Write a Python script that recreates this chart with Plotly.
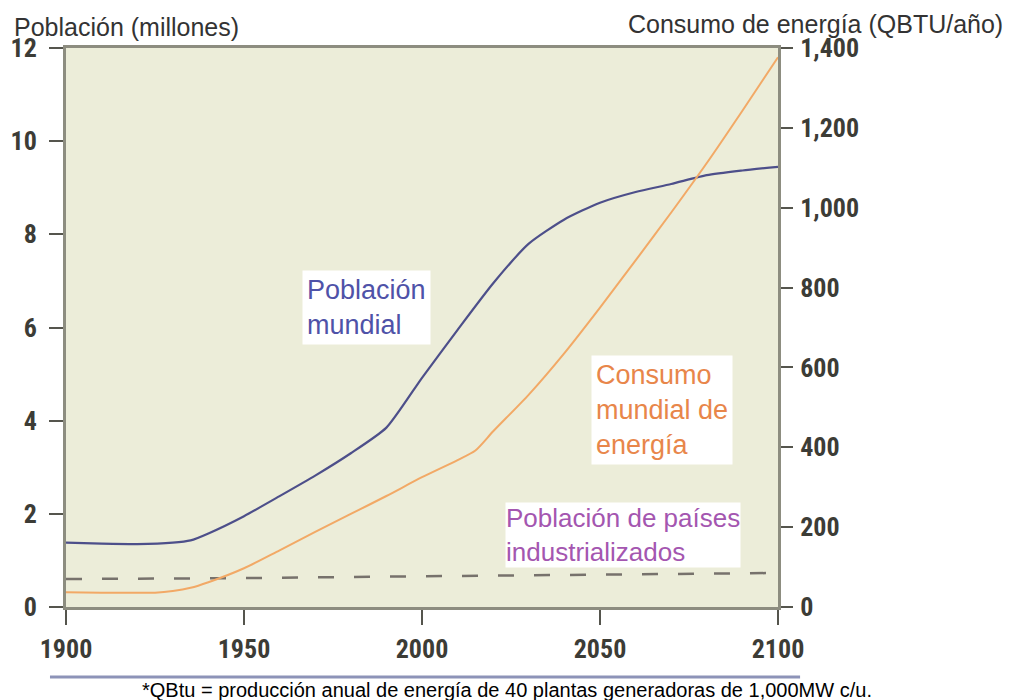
import plotly.graph_objects as go

# Datos
years_pop = [1900, 1910, 1920, 1930, 1935, 1940, 1950, 1960, 1970, 1980, 1990,
             2000, 2010, 2020, 2030, 2040, 2050, 2060, 2070, 2080, 2090, 2100]
world_pop = [1.38, 1.36, 1.35, 1.38, 1.43, 1.58, 1.95, 2.38, 2.82, 3.30, 3.85,
             4.92, 5.95, 6.95, 7.80, 8.32, 8.68, 8.91, 9.08, 9.27, 9.37, 9.45]

years_energy = [1900, 1910, 1920, 1925, 1930, 1935, 1940, 1950, 1960, 1970, 1980, 1990,
                2000, 2010, 2015, 2020, 2030, 2040, 2050, 2060, 2070, 2080, 2090, 2100]
energy = [37, 36, 36, 36, 40, 48, 62, 97, 142, 188, 233, 278,
          325, 368, 392, 440, 532, 636, 750, 868, 988, 1112, 1243, 1377]

years_ind = [1900, 1950, 2000, 2050, 2100]
industrial_pop = [0.60, 0.62, 0.66, 0.70, 0.73]

x_ticks = [1900, 1950, 2000, 2050, 2100]
left_ticks = [0, 2, 4, 6, 8, 10, 12]
right_ticks = [0, 200, 400, 600, 800, 1000, 1200, 1400]

TICK_FONT = dict(family="Liberation Sans Narrow, Arial Narrow, Roboto Condensed, DejaVu Sans Condensed, sans-serif",
                 size=26, color="#3c3c36", weight="bold")
TEXT_FONT = "Liberation Sans, Arial, sans-serif"
AXIS_LINE = "#8d8d80"
TICK_COLOR = "#55554d"

fig = go.Figure()

fig.add_trace(go.Scatter(
    x=years_ind, y=industrial_pop, mode="lines",
    line=dict(color="#77726c", width=2.5, dash="16px,20px"),
    hoverinfo="skip"
))
fig.add_trace(go.Scatter(
    x=years_energy, y=energy, yaxis="y2", mode="lines",
    line=dict(color="#f2a966", width=2, shape="spline", smoothing=0.7),
    hovertemplate="%{x}: %{y} QBTU<extra></extra>"
))
fig.add_trace(go.Scatter(
    x=years_pop, y=world_pop, mode="lines",
    line=dict(color="#4d4f8a", width=2.2, shape="spline", smoothing=0.6),
    hovertemplate="%{x}: %{y} mil millones<extra></extra>"
))

# the page body adds an 8px margin, so the figure is 8px smaller
fig.update_layout(
    width=1010, height=692,
    margin=dict(l=58, r=240, t=40, b=93),
    paper_bgcolor="white",
    plot_bgcolor="#ecedd9",
    showlegend=False,
    xaxis=dict(
        range=[1900, 2100], tickvals=x_ticks, ticks="outside", ticklen=15,
        tickwidth=2, tickcolor=TICK_COLOR, showline=True, linecolor=AXIS_LINE,
        linewidth=3, mirror=True, showgrid=False, zeroline=False,
        tickfont=TICK_FONT, ticklabelstandoff=2, automargin=False
    ),
    yaxis=dict(
        range=[0, 12], tickvals=left_ticks, ticks="outside", ticklen=14,
        tickwidth=2, tickcolor=TICK_COLOR, showline=True, linecolor=AXIS_LINE,
        linewidth=3, showgrid=False, zeroline=False,
        tickfont=TICK_FONT, ticklabelstandoff=7, automargin=False
    ),
    yaxis2=dict(
        range=[0, 1400], tickvals=right_ticks, tickformat=",", overlaying="y",
        side="right", ticks="outside", ticklen=12, tickwidth=2,
        tickcolor=TICK_COLOR, showline=True, linecolor=AXIS_LINE, linewidth=3,
        showgrid=False, zeroline=False, tickfont=TICK_FONT, ticklabelstandoff=2,
        automargin=False
    ),
    # inner halves of the crossing tick marks
    xaxis2=dict(
        range=[1900, 2100], tickvals=x_ticks, overlaying="x", side="bottom",
        ticks="inside", ticklen=9, tickwidth=2, tickcolor=TICK_COLOR,
        showticklabels=False, showline=False, showgrid=False, zeroline=False,
        automargin=False
    ),
    yaxis3=dict(
        range=[0, 12], tickvals=left_ticks, overlaying="y", side="left",
        ticks="inside", ticklen=9, tickwidth=2, tickcolor=TICK_COLOR,
        showticklabels=False, showline=False, showgrid=False, zeroline=False,
        automargin=False
    ),
    yaxis4=dict(
        range=[0, 1400], tickvals=right_ticks, overlaying="y", side="right",
        ticks="inside", ticklen=12, tickwidth=2, tickcolor=TICK_COLOR,
        showticklabels=False, showline=False, showgrid=False, zeroline=False,
        automargin=False
    ),
)

# Axis titles
fig.add_annotation(text="Población (millones)", xref="paper", yref="paper",
                   x=-0.076, y=1.0376, xanchor="left", yanchor="middle",
                   showarrow=False, font=dict(family=TEXT_FONT, size=25, color="#333333"))
fig.add_annotation(text="Consumo de energía (QBTU/año)", xref="paper", yref="paper",
                   x=1.3188, y=1.043, xanchor="right", yanchor="middle",
                   showarrow=False, font=dict(family=TEXT_FONT, size=25, color="#333333"))

# Series labels
fig.add_annotation(text="Población<br>mundial", xref="paper", yref="paper",
                   x=0.331, y=0.535, xanchor="left", yanchor="middle", align="left",
                   showarrow=False, bgcolor="white", borderpad=4,
                   font=dict(family=TEXT_FONT, size=27, color="#4f52a8"))
fig.add_annotation(text="Consumo<br>mundial de<br>energía", xref="paper", yref="paper",
                   x=0.737, y=0.352, xanchor="left", yanchor="middle", align="left",
                   showarrow=False, bgcolor="white", borderpad=4,
                   font=dict(family=TEXT_FONT, size=27, color="#e8864a"))
fig.add_annotation(text="Población de países<br>industrializados", xref="paper", yref="paper",
                   x=0.617, y=0.128, xanchor="left", yanchor="middle", align="left",
                   showarrow=False, bgcolor="white", borderpad=0,
                   font=dict(family=TEXT_FONT, size=26, color="#a456b0"))

# Footnote and separator
fig.add_shape(type="line", xref="paper", yref="paper",
              x0=-0.0225, x1=1.031, y0=-0.1252, y1=-0.1252,
              line=dict(color="#8d93b8", width=3))
fig.add_annotation(text="*QBtu = producción anual de energía de 40 plantas generadoras de 1,000MW c/u.",
                   xref="paper", yref="paper", x=0.62, y=-0.1485,
                   xanchor="center", yanchor="middle", showarrow=False,
                   font=dict(family=TEXT_FONT, size=20, color="black"))

fig.write_html("out.html")
